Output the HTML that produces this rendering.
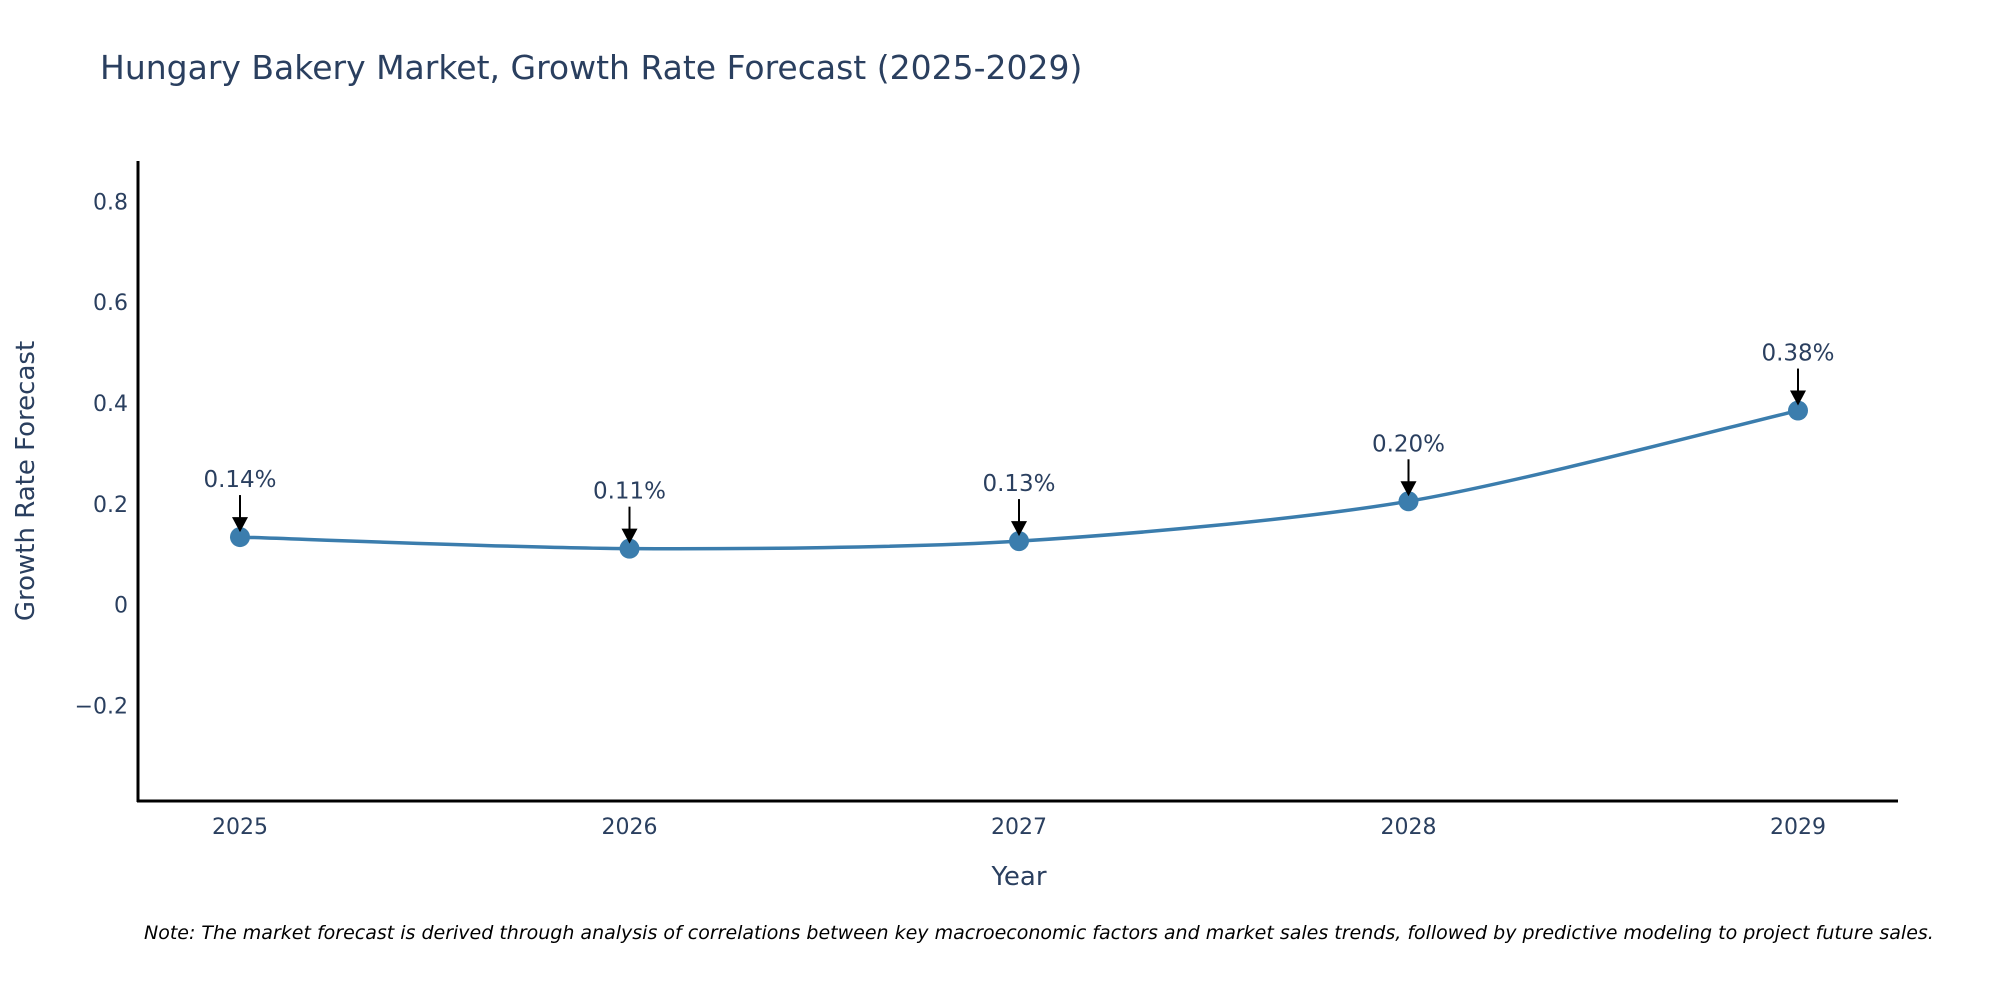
<!DOCTYPE html>
<html><head><meta charset="utf-8"><style>
html,body{margin:0;padding:0;background:#fff}
svg{display:block;font-family:"DejaVu Sans","Liberation Sans",sans-serif}
</style></head><body>
<svg id="chart" width="2000" height="1000">
<text x="100" y="79" font-size="33" fill="#2a3f5f">Hungary Bakery Market, Growth Rate Forecast (2025-2029)</text>
<g id="yticks"></g>
<g id="xticks"></g>
<line x1="138" y1="161" x2="138" y2="802" stroke="#000" stroke-width="3"/>
<line x1="137" y1="801" x2="1898" y2="801" stroke="#000" stroke-width="3"/>
<path id="series" fill="none" stroke="#3b7dad" stroke-width="3.5"/>
<g id="marks"></g>
<text x="1019" y="885" font-size="26" fill="#2a3f5f" text-anchor="middle">Year</text>
<text transform="translate(34,481) rotate(-90)" font-size="26" fill="#2a3f5f" text-anchor="middle">Growth Rate Forecast</text>
<text x="144" y="939" font-size="19" font-style="italic" fill="#000">Note: The market forecast is derived through analysis of correlations between key macroeconomic factors and market sales trends, followed by predictive modeling to project future sales.</text>
</svg>
<script>
const years = ["2025","2026","2027","2028","2029"];
const growth = [0.134, 0.111, 0.126, 0.205, 0.385];
const labels = ["0.14%","0.11%","0.13%","0.20%","0.38%"];
const yTickVals = [-0.2, 0, 0.2, 0.4, 0.6, 0.8];
const yTickLabels = ["\u22120.2","0","0.2","0.4","0.6","0.8"];

const NS = "http://www.w3.org/2000/svg";
function xs(i){ return 240 + i * 389.5; }
function ys(v){ return 604.6 - v * 504; }
function mk(tag, attrs, parent){ const e=document.createElementNS(NS,tag); for(const k in attrs) e.setAttribute(k,attrs[k]); parent.appendChild(e); return e; }

const yt = document.getElementById('yticks');
yTickVals.forEach((v,i)=>{
  const t = mk('text',{x:128,y:ys(v)+8,'font-size':22,fill:'#2a3f5f','text-anchor':'end'},yt);
  
  
  t.textContent = yTickLabels[i];
});
const xt = document.getElementById('xticks');
years.forEach((y,i)=>{
  const t = mk('text',{x:xs(i),y:834,'font-size':22,fill:'#2a3f5f','text-anchor':'middle'},xt);
  
  
  t.textContent = y;
});

const pts = growth.map((v,i)=>[xs(i), ys(v)]);
let d = `M${pts[0][0]},${pts[0][1]}`;
for(let i=0;i<pts.length-1;i++){
  const p0=pts[Math.max(0,i-1)], p1=pts[i], p2=pts[i+1], p3=pts[Math.min(pts.length-1,i+2)];
  const s=0.14;
  const c1=[p1[0]+(p2[0]-p0[0])*s, p1[1]+(p2[1]-p0[1])*s];
  const c2=[p2[0]-(p3[0]-p1[0])*s, p2[1]-(p3[1]-p1[1])*s];
  d += ` C${c1[0]},${c1[1]} ${c2[0]},${c2[1]} ${p2[0]},${p2[1]}`;
}
document.getElementById('series').setAttribute('d', d);

const mg = document.getElementById('marks');
pts.forEach((p,i)=>{
  const c = mk('circle',{cx:p[0],cy:p[1],r:10,fill:'#3b7dad'},mg);
  
  
  const l = mk('line',{x1:p[0],y1:p[1]-42,x2:p[0],y2:p[1]-18,stroke:'#000','stroke-width':2},mg);
  
  
  const h = mk('polygon',{points:`${p[0]-8},${p[1]-20} ${p[0]+8},${p[1]-20} ${p[0]},${p[1]-5}`,fill:'#000'},mg);
  
  
  const t = mk('text',{x:p[0],y:p[1]-50,'font-size':23,fill:'#2a3f5f','text-anchor':'middle'},mg);
  
  
  t.textContent = labels[i];
});
</script>
</body></html>
